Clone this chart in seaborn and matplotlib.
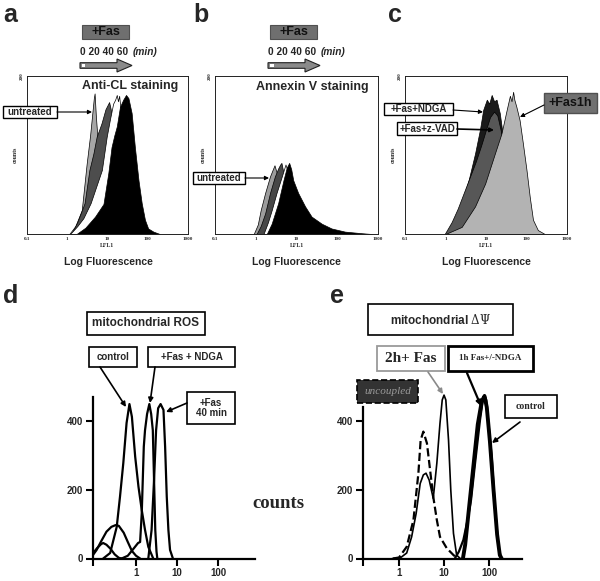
import numpy as np
import matplotlib
matplotlib.use('Agg')
import matplotlib.pyplot as plt
from matplotlib.patches import Rectangle, Polygon, FancyArrowPatch
from matplotlib.ticker import NullLocator
import seaborn as sns

# ---- data: log10 fluorescence (x) and counts (y) ----
# panel a, Anti-CL staining
a_0_x = [0.05, 0.2, 0.36, 0.48, 0.57, 0.66, 0.68, 0.71, 0.75, 0.82, 0.9, 1.0, 1.1, 1.2, 1.3]
a_0_y = [0, 10, 30, 88, 126, 172, 178, 150, 122, 105, 90, 65, 35, 12, 0]
a_20_x = [0.1, 0.25, 0.43, 0.55, 0.65, 0.73, 0.85, 0.95, 1.0, 1.04, 1.08, 1.12, 1.18, 1.25, 1.35, 1.45, 1.55]
a_20_y = [0, 15, 39, 81, 102, 123, 140, 158, 163, 167, 158, 140, 110, 75, 40, 15, 0]
a_40_x = [0.07, 0.25, 0.4, 0.58, 0.72, 0.86, 0.98, 1.06, 1.14, 1.19, 1.23, 1.26, 1.29, 1.33, 1.4, 1.5, 1.6, 1.72, 1.85]
a_40_y = [0, 10, 20, 39, 60, 81, 123, 145, 165, 170, 176, 168, 175, 155, 125, 85, 50, 20, 0]
a_60_x = [0.23, 0.45, 0.69, 0.9, 1.02, 1.1, 1.17, 1.23, 1.31, 1.39, 1.46, 1.52, 1.6, 1.68, 1.77, 1.85, 1.93, 2.01, 2.14, 2.3]
a_60_y = [0, 8, 22, 38, 77, 110, 125, 136, 161, 170, 176, 172, 153, 110, 68, 39, 18, 7, 3, 0]

# panel b, Annexin V staining
b_0_x = [-0.05, 0.05, 0.12, 0.23, 0.35, 0.42, 0.46, 0.5, 0.56, 0.65, 0.75, 0.9, 1.05]
b_0_y = [0, 12, 30, 52, 73, 82, 87, 80, 70, 55, 35, 12, 0]
b_20_x = [0.02, 0.12, 0.23, 0.35, 0.47, 0.55, 0.6, 0.63, 0.67, 0.72, 0.8, 0.9, 1.0, 1.1, 1.2]
b_20_y = [0, 10, 26, 52, 73, 83, 88, 90, 80, 70, 55, 38, 22, 8, 0]
b_40_x = [0.19, 0.3, 0.39, 0.51, 0.64, 0.7, 0.73, 0.78, 0.85, 0.95, 1.05, 1.2, 1.35, 1.5]
b_40_y = [0, 15, 30, 52, 73, 83, 88, 80, 72, 55, 40, 22, 10, 0]
b_60_x = [0.27, 0.39, 0.55, 0.68, 0.76, 0.82, 0.87, 0.92, 1.04, 1.21, 1.37, 1.62, 1.86, 2.19, 2.6, 2.85]
b_60_y = [0, 13, 39, 68, 84, 90, 82, 68, 52, 35, 22, 13, 7, 3, 1, 0]

# panel c
c_ndga_x = [0.0, 0.24, 0.4, 0.57, 0.73, 0.85, 0.93, 1.02, 1.08, 1.14, 1.2, 1.26, 1.34, 1.42, 1.55, 1.7, 1.85, 2.0, 2.1]
c_ndga_y = [0, 18, 39, 68, 102, 132, 157, 170, 165, 176, 168, 170, 153, 123, 90, 50, 20, 5, 0]
c_zvad_x = [-0.02, 0.15, 0.3, 0.45, 0.6, 0.75, 0.88, 1.0, 1.1, 1.2, 1.28, 1.36, 1.45, 1.6, 1.75, 1.9, 2.05]
c_zvad_y = [0, 15, 32, 52, 72, 92, 112, 132, 148, 155, 150, 132, 105, 70, 35, 12, 0]
c_fas_x = [0.0, 0.4, 0.73, 0.98, 1.22, 1.38, 1.51, 1.59, 1.63, 1.67, 1.7, 1.75, 1.83, 1.91, 2.0, 2.08, 2.16, 2.28, 2.45]
c_fas_y = [0, 9, 35, 64, 102, 127, 157, 175, 168, 180, 170, 161, 144, 115, 81, 47, 18, 5, 0]

# panel d, mitochondrial ROS
d_low1_x = [-1.05, -0.95, -0.85, -0.8, -0.72, -0.62, -0.52, -0.42, -0.35]
d_low1_y = [15, 30, 42, 45, 40, 28, 12, 2, 0]
d_low2_x = [-1.05, -0.96, -0.85, -0.72, -0.6, -0.5, -0.42, -0.3, -0.2, -0.1, 0.0, 0.1]
d_low2_y = [10, 25, 50, 78, 92, 97, 95, 75, 48, 22, 8, 0]
d_ctrl_x = [-0.8, -0.63, -0.47, -0.39, -0.31, -0.23, -0.16, -0.1, -0.02, 0.06, 0.14, 0.22, 0.3, 0.42]
d_ctrl_y = [0, 16, 92, 180, 277, 394, 449, 412, 296, 209, 141, 83, 34, 0]
d_ndga_x = [-0.35, -0.2, -0.05, 0.05, 0.1, 0.14, 0.19, 0.22, 0.27, 0.325, 0.37, 0.41, 0.44, 0.47, 0.5, 0.52]
d_ndga_y = [0, 8, 30, 45, 48, 131, 325, 373, 420, 449, 420, 373, 228, 83, 20, 0]
d_fas_x = [0.3, 0.38, 0.44, 0.49, 0.54, 0.6, 0.67, 0.71, 0.75, 0.79, 0.83, 0.9]
d_fas_y = [0, 83, 228, 373, 437, 449, 432, 325, 180, 83, 25, 0]

# panel e, mitochondrial membrane potential
e_unc_x = [-0.13, 0.0, 0.17, 0.32, 0.43, 0.48, 0.54, 0.62, 0.69, 0.76, 0.84, 0.91, 1.06, 1.21, 1.3]
e_unc_y = [0, 3, 34, 112, 248, 344, 369, 335, 257, 180, 112, 63, 30, 10, 0]
e_2h_x = [-0.15, 0.03, 0.17, 0.28, 0.38, 0.47, 0.54, 0.6, 0.67, 0.76, 0.84, 0.91, 0.96, 1.0, 1.04, 1.1, 1.15, 1.21, 1.28, 1.36]
e_2h_y = [0, 2, 16, 63, 131, 218, 243, 248, 228, 175, 277, 393, 461, 475, 461, 344, 199, 73, 10, 0]
e_1h_x = [1.24, 1.33, 1.43, 1.52, 1.6, 1.69, 1.8, 1.87, 1.9, 1.94, 1.98, 2.06, 2.13, 2.21, 2.27]
e_1h_y = [0, 20, 54, 110, 170, 277, 403, 468, 475, 460, 403, 296, 151, 34, 0]
e_ctrl_x = [1.42, 1.47, 1.55, 1.65, 1.75, 1.84, 1.9, 1.95, 2.02, 2.1, 2.18, 2.24, 2.28]
e_ctrl_y = [0, 40, 140, 265, 390, 458, 472, 440, 340, 200, 70, 10, 0]

flow_ticks = [0.1, 1, 10, 100, 1000]
flow_ticklabels = ['0.1', '1', '10', '100', '1000']

sns.set_style('white')
plt.rcParams['font.family'] = ['Liberation Sans', 'DejaVu Sans']
plt.rcParams['mathtext.fontset'] = 'dejavuserif'
SERIF = ['Liberation Serif', 'DejaVu Serif']

W, H = 600, 581
fig = plt.figure(figsize=(6, 5.81), dpi=100)


def fx(x):
    return x / W


def fy(y):
    return 1 - y / H


def axes_px(l, t, r, b):
    return fig.add_axes([fx(l), fy(b), (r - l) / W, (b - t) / H])


def label_box(x0, y0, x1, y1, text, fc='white', ec='black', lw=1.0, ls='-', **kw):
    fig.add_artist(Rectangle((fx(x0), fy(y1)), (x1 - x0) / W, (y1 - y0) / H,
                             transform=fig.transFigure, fc=fc, ec=ec, lw=lw, ls=ls))
    fig.text(fx((x0 + x1) / 2), fy((y0 + y1) / 2), text, ha='center', va='center', **kw)


def arrow(x0, y0, x1, y1, color='black', lw=1.0, ms=7):
    fig.add_artist(FancyArrowPatch((fx(x0), fy(y0)), (fx(x1), fy(y1)),
                                   transform=fig.transFigure, arrowstyle='-|>',
                                   mutation_scale=ms, lw=lw, color=color,
                                   shrinkA=0, shrinkB=0))


def time_arrow(x0, y):
    pts = [(x0, y - 2.8), (x0 + 37, y - 2.8), (x0 + 37, y - 6.5), (x0 + 52, y),
           (x0 + 37, y + 6.5), (x0 + 37, y + 2.8), (x0, y + 2.8)]
    fig.add_artist(Polygon([(fx(px), fy(py)) for px, py in pts], closed=True,
                           transform=fig.transFigure, fc='#8a8a8a', ec='#222222', lw=0.8))
    fig.add_artist(Rectangle((fx(x0 + 1.5), fy(y + 1.3)), 4 / W, 2.6 / H,
                             transform=fig.transFigure, fc='white', ec='none'))


def fas_header(x0):
    label_box(x0 + 2, 25, x0 + 49, 39, '+Fas', fc='#6f6f6f', ec='#505050', lw=0.8,
              fontsize=9, fontweight='bold', color='#111111')
    fig.text(fx(x0), fy(52), '0 20 40 60', fontsize=7.3, fontweight='bold', va='center')
    fig.text(fx(x0 + 53), fy(52), '(min)', fontsize=7.3, fontweight='bold',
             fontstyle='italic', va='center')
    time_arrow(x0, 65.5)


def flow_panel(ax, layers):
    for xs, ys, fc in layers:
        ax.fill_between(10 ** np.asarray(xs), ys, 0, facecolor=fc,
                        edgecolor='black', linewidth=0.5)
    ax.set_xscale('log')
    ax.set_xlim(0.1, 1000)
    ax.set_ylim(0, 200)
    ax.set_xticks(flow_ticks)
    ax.set_xticklabels(flow_ticklabels, fontsize=3.6, fontfamily=SERIF, fontweight='bold')
    ax.xaxis.set_minor_locator(NullLocator())
    ax.set_yticks([200])
    ax.set_yticklabels(['200'], rotation=90, va='center', fontsize=3.6,
                       fontfamily=SERIF, fontweight='bold')
    ax.tick_params(length=1.5, width=0.5, pad=1)
    ax.set_xlabel('LFL1', fontsize=4.2, fontfamily=SERIF, fontweight='bold', labelpad=1)
    ax.set_ylabel('counts', fontsize=4.2, fontfamily=SERIF, fontweight='bold', labelpad=1)
    for s in ax.spines.values():
        s.set_linewidth(0.7)
        s.set_color('#222222')


def ros_panel(ax, curves, xmin, xmax, top):
    for xs, ys, lw, ls in curves:
        sns.lineplot(x=10 ** np.asarray(xs), y=ys, ax=ax, color='black', linewidth=lw,
                     linestyle=ls, estimator=None, sort=False)
    ax.set_xscale('log')
    ax.set_xlim(xmin, xmax)
    ax.set_ylim(0, 480)
    sns.despine(ax=ax)
    ax.patch.set_alpha(0)
    ax.spines['left'].set_bounds(0, top)
    for s in ('left', 'bottom'):
        ax.spines[s].set_linewidth(1.6)
        ax.spines[s].set_color('black')
    ax.set_xticks([xmin, 1, 10, 100])
    ax.set_xticklabels(['', '1', '10', '100'])
    ax.xaxis.set_minor_locator(NullLocator())
    ax.set_yticks([0, 200, 400])
    ax.tick_params(direction='out', length=5, width=1.5, labelsize=7, pad=2,
                   bottom=True, left=True, color='black')
    for t in ax.get_xticklabels() + ax.get_yticklabels():
        t.set_fontweight('bold')


# ---- panel letters ----
for letter, x, y in [('a', 3, 22), ('b', 193, 22), ('c', 388, 22), ('d', 3, 303), ('e', 330, 303)]:
    fig.text(fx(x), fy(y), letter, fontsize=18, fontweight='bold', va='baseline')

# ---- a ----
ax_a = axes_px(27, 76, 188, 234)
flow_panel(ax_a, [(a_0_x, a_0_y, '#a6a6a6'), (a_20_x, a_20_y, '#4d4d4d'),
                  (a_40_x, a_40_y, 'white'), (a_60_x, a_60_y, 'black')])
fig.text(fx(130), fy(86), 'Anti-CL staining', fontsize=9, fontweight='bold',
         ha='center', va='center')
fig.text(fx(108), fy(262), 'Log Fluorescence', fontsize=7.5, fontweight='bold',
         ha='center', va='center')
fas_header(80)
label_box(3, 106, 57, 118, 'untreated', fontsize=7, fontweight='bold')
arrow(57, 112, 92, 112, lw=0.8, ms=6)

# ---- b ----
ax_b = axes_px(215, 76, 378, 234)
flow_panel(ax_b, [(b_0_x, b_0_y, '#9c9c9c'), (b_20_x, b_20_y, '#474747'),
                  (b_40_x, b_40_y, 'white'), (b_60_x, b_60_y, 'black')])
fig.text(fx(312), fy(87), 'Annexin V staining', fontsize=9, fontweight='bold',
         ha='center', va='center')
fig.text(fx(296), fy(262), 'Log Fluorescence', fontsize=7.5, fontweight='bold',
         ha='center', va='center')
fas_header(268)
label_box(193, 172, 245, 184, 'untreated', fontsize=7, fontweight='bold')
arrow(245, 178, 269, 178, lw=0.8, ms=6)

# ---- c ----
ax_c = axes_px(405, 76, 567, 234)
flow_panel(ax_c, [(c_ndga_x, c_ndga_y, '#1a1a1a'), (c_zvad_x, c_zvad_y, '#575757'),
                  (c_fas_x, c_fas_y, '#b3b3b3')])
fig.text(fx(486), fy(262), 'Log Fluorescence', fontsize=7.5, fontweight='bold',
         ha='center', va='center')
label_box(384, 103, 453, 115, '+Fas+NDGA', fontsize=7, fontweight='bold')
label_box(397, 122, 457, 135, '+Fas+z-VAD', fontsize=7, fontweight='bold')
label_box(544, 93, 597, 113, '+Fas1h', fc='#707070', ec='#505050', fontsize=9,
          fontweight='bold', color='#111111')
arrow(453, 110, 483, 112, lw=0.8, ms=6)
arrow(457, 129, 494, 130, lw=1.2, ms=6)
arrow(544, 105, 520, 117, lw=0.8, ms=6)

# ---- d ----
ax_d = axes_px(93, 393.4, 255, 558.5)
ros_panel(ax_d, [(d_low1_x, d_low1_y, 1.6, '-'), (d_low2_x, d_low2_y, 1.6, '-'),
                 (d_ctrl_x, d_ctrl_y, 1.6, '-'), (d_ndga_x, d_ndga_y, 1.6, '-'),
                 (d_fas_x, d_fas_y, 1.6, '-')],
          0.0894, 798, 469)
label_box(87, 312, 205, 335, 'mitochondrial ROS', lw=1.2, fontsize=8.5, fontweight='bold')
label_box(89, 347, 137, 367, 'control', lw=1.2, fontsize=7, fontweight='bold')
label_box(148, 347, 235, 367, '+Fas + NDGA', lw=1.2, fontsize=7, fontweight='bold')
label_box(187, 392, 235, 424, '+Fas\n40 min', lw=1.2, fontsize=7, fontweight='bold',
          linespacing=1.1)
arrow(100, 367, 126, 407, lw=1.2)
arrow(155, 367, 150, 403, lw=1.2)
arrow(187, 403, 166, 412, lw=1.2)

fig.text(fx(278), fy(503), 'counts', fontsize=13.5, fontweight='bold', fontfamily=SERIF,
         ha='center', va='center')

# ---- e ----
ax_e = axes_px(363, 393.4, 522, 558.5)
ros_panel(ax_e, [(e_unc_x, e_unc_y, 1.6, '--'), (e_2h_x, e_2h_y, 1.2, '-'),
                 (e_1h_x, e_1h_y, 1.6, '-'), (e_ctrl_x, e_ctrl_y, 2.8, '-')],
          0.158, 541, 440)
label_box(368, 304, 513, 335, r'mitochondrial $\Delta\Psi$', lw=1.2, fontsize=8.5,
          fontweight='bold')
label_box(377, 346, 445, 371, '2h+ Fas', ec='#9a9a9a', lw=1.3, fontsize=11,
          fontweight='bold', fontfamily=SERIF)
label_box(448, 346, 533, 371, '1h Fas+/-NDGA', lw=2.0, fontsize=6.5,
          fontweight='bold', fontfamily=SERIF)
label_box(357, 380, 418, 403, 'uncoupled', fc='#333333', ec='black', lw=1.2, ls='--',
          fontsize=8, fontstyle='italic', fontfamily=SERIF, color='#9a9a9a')
label_box(505, 395, 557, 418, 'control', lw=1.2, fontsize=7, fontweight='bold',
          fontfamily=SERIF)
arrow(428, 372, 443, 394, color='#8a8a8a', lw=1.2)
arrow(467, 373, 481, 406, lw=1.6)
arrow(520, 422, 492, 443, lw=1.2)

fig.savefig('out.png', dpi=100)
